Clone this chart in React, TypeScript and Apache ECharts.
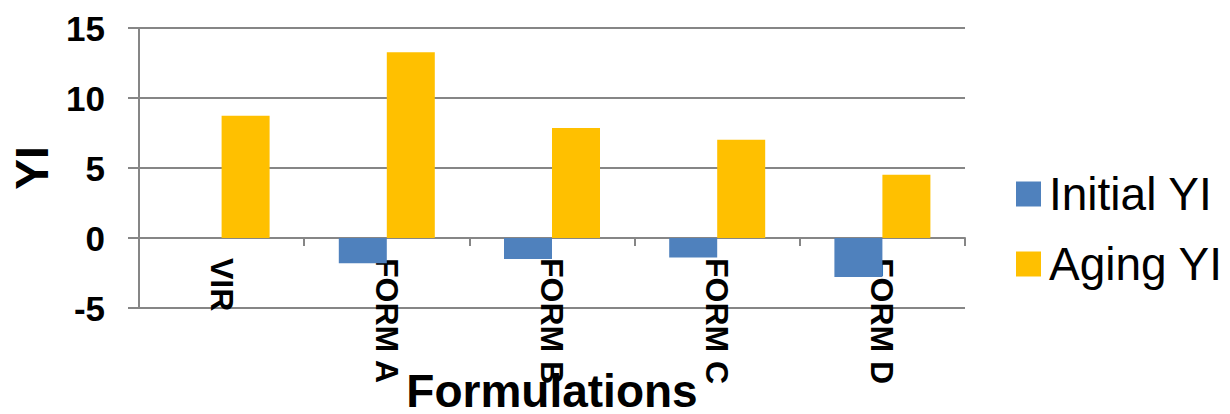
import React, { useEffect, useRef } from "react";
import * as echarts from "echarts";

const categories = ["VIR", "FORM A", "FORM B", "FORM C", "FORM D"];
const initialYI = [0, -1.81, -1.5, -1.39, -2.79];
const agingYI = [8.74, 13.26, 7.86, 7.02, 4.52];
const yTicks = { min: -5, max: 15, interval: 5 };

const FONT = "'Liberation Sans', Arial, sans-serif";
const GRAY = "#868686";

export default function App() {
  const ref = useRef<HTMLDivElement>(null);
  useEffect(() => {
    if (!ref.current) return;
    const chart = echarts.init(ref.current, undefined, { renderer: "svg" });
    chart.setOption({
      animation: false,
      backgroundColor: "#ffffff",
      textStyle: { fontFamily: FONT },
      grid: {
        left: 139,
        right: 265,
        top: 28,
        bottom: 106,
        containLabel: false,
        outerBoundsMode: "none",
      },
      legend: {
        orient: "vertical",
        left: 1011,
        top: 166,
        itemWidth: 25,
        itemHeight: 25,
        itemGap: 24,
        icon: "rect",
        textStyle: { fontFamily: FONT, fontSize: 46, color: "#000", lineHeight: 46, padding: [0, 0, 0, 3] },
        data: ["Initial YI", "Aging YI"],
      },
      xAxis: {
        type: "category",
        data: categories,
        offset: -70,
        name: "Formulations",
        nameLocation: "middle",
        nameGap: 130,
        nameMoveOverlap: false,
        nameTextStyle: { fontFamily: FONT, fontSize: 46, fontWeight: "bold", color: "#000" },
        axisLine: { show: true, onZero: false, lineStyle: { color: GRAY, width: 2 } },
        axisTick: { show: true, length: 8, lineStyle: { color: GRAY, width: 2 } },
        axisLabel: {
          rotate: -90,
          margin: 20,
          fontFamily: FONT,
          fontSize: 32,
          fontWeight: "bold",
          color: "#000",
        },
        splitLine: { show: false },
      },
      yAxis: {
        type: "value",
        min: yTicks.min,
        max: yTicks.max,
        interval: yTicks.interval,
        name: "YI",
        nameLocation: "middle",
        nameRotate: 90,
        nameGap: 84,
        nameMoveOverlap: false,
        nameTextStyle: { fontFamily: FONT, fontSize: 46, fontWeight: "bold", color: "#000" },
        axisLine: { show: true, lineStyle: { color: GRAY, width: 2 } },
        axisTick: { show: true, length: 11, inside: false, lineStyle: { color: GRAY, width: 2 } },
        axisLabel: { margin: 34, fontFamily: FONT, fontSize: 35, fontWeight: "bold", color: "#000" },
        splitLine: { show: true, lineStyle: { color: GRAY, width: 2 } },
      },
      series: [
        {
          name: "Initial YI",
          type: "bar",
          data: initialYI,
          barWidth: 48,
          barGap: "0%",
          itemStyle: { color: "#4F81BD" },
        },
        {
          name: "Aging YI",
          type: "bar",
          data: agingYI,
          barWidth: 48,
          barGap: "0%",
          itemStyle: { color: "#FFC000" },
        },
      ],
    });
    return () => chart.dispose();
  }, []);
  return (
    <div
      ref={ref}
      style={{ position: "fixed", left: 0, top: 0, width: 1230, height: 414, background: "#fff" }}
    />
  );
}
